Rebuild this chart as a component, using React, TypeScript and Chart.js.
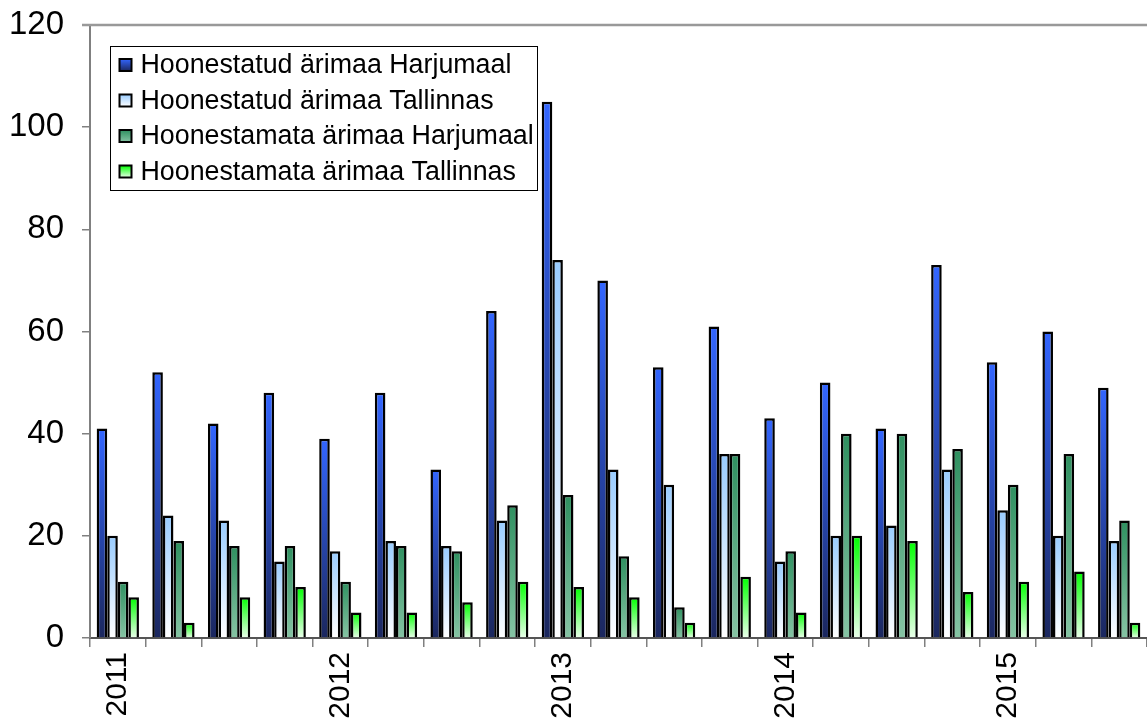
import React, { useEffect, useRef } from "react";
import { Chart, registerables } from "chart.js";

Chart.register(...registerables);

const categories = [
  "2011 I", "2011 II", "2011 III", "2011 IV",
  "2012 I", "2012 II", "2012 III", "2012 IV",
  "2013 I", "2013 II", "2013 III", "2013 IV",
  "2014 I", "2014 II", "2014 III", "2014 IV",
  "2015 I", "2015 II", "2015 III",
];
const tickLabels = [
  "2011", "", "", "",
  "2012", "", "", "",
  "2013", "", "", "",
  "2014", "", "", "",
  "2015", "", "",
];
const seriesNames = [
  "Hoonestatud ärimaa Harjumaal",
  "Hoonestatud ärimaa Tallinnas",
  "Hoonestamata ärimaa Harjumaal",
  "Hoonestamata ärimaa Tallinnas",
];
const builtHarju = [41, 52, 42, 48, 39, 48, 33, 64, 105, 70, 53, 61, 43, 50, 41, 73, 54, 60, 49];
const builtTallinn = [20, 24, 23, 15, 17, 19, 18, 23, 74, 33, 30, 36, 15, 20, 22, 33, 25, 20, 19];
const unbuiltHarju = [11, 19, 18, 18, 11, 18, 17, 26, 28, 16, 6, 36, 17, 40, 40, 37, 30, 36, 23];
const unbuiltTallinn = [8, 3, 8, 10, 5, 5, 7, 11, 10, 8, 3, 12, 5, 20, 19, 9, 11, 13, 3];
const yTicks = [0, 20, 40, 60, 80, 100, 120];

// gradient stops: [top, bottom]
const gradients: [string, string][] = [
  ["#3366ff", "#1b275e"],
  ["#99ccff", "#ffffff"],
  ["#2f9060", "#86c4a4"],
  ["#00ff00", "#eaffea"],
];

const FONT = "'Liberation Sans', Arial, sans-serif";

function makeGradient(ctx: CanvasRenderingContext2D, top: number, bottom: number, idx: number) {
  const g = ctx.createLinearGradient(0, top, 0, bottom);
  g.addColorStop(0, gradients[idx][0]);
  g.addColorStop(1, gradients[idx][1]);
  return g;
}

function zeroPadding(s: any) {
  s.paddingTop = 0;
  s.paddingBottom = 0;
  s.paddingLeft = 0;
  s.paddingRight = 0;
}

const frameLines = {
  id: "frameLines",
  afterDraw(chart: any) {
    const { ctx, chartArea } = chart;
    ctx.save();
    ctx.strokeStyle = "#999999";
    ctx.lineWidth = 2.5;
    ctx.beginPath();
    ctx.moveTo(chartArea.left - 8, chartArea.top);
    ctx.lineTo(chartArea.right, chartArea.top);
    ctx.stroke();
    ctx.restore();
  },
};

const boxLegend = {
  id: "boxLegend",
  afterDatasetsDraw(chart: any) {
    const { ctx, chartArea } = chart;
    const left = chartArea.left + 20.5;
    const top = chartArea.top + 21.5;
    const w = 427;
    const h = 144;
    ctx.save();
    ctx.fillStyle = "#ffffff";
    ctx.fillRect(left, top, w, h);
    ctx.strokeStyle = "#000000";
    ctx.lineWidth = 1;
    ctx.strokeRect(left, top, w, h);
    ctx.font = `26.8px ${FONT}`;
    ctx.textBaseline = "middle";
    ctx.textAlign = "left";
    chart.data.datasets.forEach((ds: any, i: number) => {
      const cy = top + 18.5 + i * 35.5;
      const mx = left + 9;
      const my = cy - 6;
      ctx.fillStyle = makeGradient(ctx, my, my + 12, i);
      ctx.fillRect(mx, my, 12, 12);
      ctx.strokeStyle = "#000";
      ctx.lineWidth = 2;
      ctx.strokeRect(mx, my, 12, 12);
      ctx.fillStyle = "#000";
      ctx.fillText(ds.label, left + 30, cy + 1);
    });
    ctx.restore();
  },
};

export default function App() {
  const canvasRef = useRef<HTMLCanvasElement | null>(null);

  useEffect(() => {
    const canvas = canvasRef.current;
    if (!canvas) return;
    const seriesData = [builtHarju, builtTallinn, unbuiltHarju, unbuiltTallinn];
    const chart = new Chart(canvas, {
      type: "bar",
      data: {
        labels: categories,
        datasets: seriesData.map((d, i) => ({
          label: seriesNames[i],
          data: d,
          borderColor: "#000000",
          borderWidth: 2.5,
          borderSkipped: "bottom",
          categoryPercentage: 0.76,
          barPercentage: 1.0,
          backgroundColor: (c: any) => {
            const ch = c.chart;
            const y = ch.scales && ch.scales.y;
            if (!y || c.raw === undefined) return gradients[i][0];
            const top = y.getPixelForValue(c.raw);
            const bottom = y.getPixelForValue(0);
            if (!isFinite(top) || !isFinite(bottom) || bottom - top < 1) return gradients[i][0];
            return makeGradient(ch.ctx, top, bottom, i);
          },
        })),
      },
      options: {
        responsive: false,
        animation: false,
        layout: { autoPadding: false, padding: { left: 0, top: 25, right: 0, bottom: 0 } },
        plugins: {
          legend: { display: false },
          tooltip: { enabled: false },
        },
        scales: {
          x: {
            offset: true,
            grid: {
              offset: true,
              drawOnChartArea: false,
              drawTicks: true,
              tickLength: 9,
              color: "#808080",
              lineWidth: 1.5,
            },
            border: { display: true, color: "#555555", width: 2 },
            ticks: {
              autoSkip: false,
              maxRotation: 90,
              minRotation: 90,
              padding: 5,
              color: "#000000",
              font: { family: FONT, size: 30 },
              callback: (_v: any, idx: number) => tickLabels[idx],
            },
            afterFit: (s: any) => {
              s.height = 84;
              zeroPadding(s);
            },
          },
          y: {
            min: 0,
            max: 120,
            afterBuildTicks: (s: any) => {
              s.ticks = yTicks.map((v) => ({ value: v }));
            },
            grid: {
              drawOnChartArea: false,
              drawTicks: true,
              tickLength: 8,
              color: "#808080",
              lineWidth: 1.5,
            },
            border: { display: true, color: "#808080", width: 2 },
            ticks: {
              padding: 18,
              color: "#000000",
              font: { family: FONT, size: 33 },
            },
            afterFit: (s: any) => {
              s.width = 90;
              zeroPadding(s);
            },
          },
        },
      },
      plugins: [frameLines, boxLegend],
    });
    return () => chart.destroy();
  }, []);

  return (
    <div style={{ position: "absolute", left: 0, top: 0, width: 1147, height: 722, background: "#ffffff" }}>
      <canvas ref={canvasRef} width={1147} height={722} />
    </div>
  );
}
